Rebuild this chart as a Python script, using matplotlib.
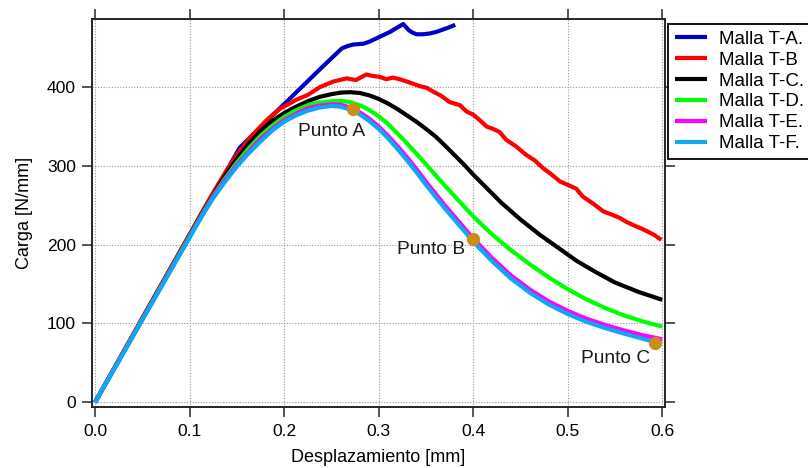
import matplotlib
matplotlib.use("Agg")
import matplotlib.pyplot as plt

plt.rcParams['font.family'] = ['Liberation Sans', 'DejaVu Sans']

# Malla T-A.
disp_a = [0, 0.1, 0.153, 0.18, 0.21, 0.24, 0.261, 0.267, 0.273, 0.284, 0.291,
          0.298, 0.305, 0.312, 0.319, 0.326, 0.329, 0.332, 0.336, 0.340, 0.347,
          0.354, 0.361, 0.368, 0.375, 0.381]
load_a = [0, 211, 323, 355, 390, 425, 449, 452, 454, 455, 458,
          462, 466, 470, 475, 480, 476, 472, 469, 467, 467,
          468, 470, 473, 476, 479]

# Malla T-B
disp_b = [0, 0.05, 0.1, 0.1125, 0.125, 0.1375, 0.15, 0.165, 0.1815, 0.195, 0.213,
          0.225, 0.238, 0.252, 0.266, 0.276, 0.287, 0.294, 0.301, 0.308, 0.315,
          0.322, 0.330, 0.344, 0.351, 0.358, 0.366, 0.375, 0.386, 0.393, 0.400,
          0.407, 0.414, 0.421, 0.428, 0.435, 0.445, 0.456, 0.465, 0.474, 0.483,
          0.492, 0.500, 0.509, 0.516, 0.527, 0.538, 0.547, 0.555, 0.562, 0.569,
          0.577, 0.584, 0.592, 0.599]
load_b = [0, 107, 213, 240, 266, 291, 314, 337, 358, 372, 384,
          390, 400, 407, 411, 409, 416, 414, 413, 410, 412,
          410, 407, 401, 399, 394, 389, 381, 377, 369, 365,
          358, 350, 347, 343, 333, 325, 314, 307, 297, 289,
          280, 276, 271, 261, 252, 242, 238, 234, 229, 225,
          221, 217, 212, 206]

# Malla T-C.
disp_c = [0, 0.1, 0.1125, 0.125, 0.1375, 0.15, 0.1625, 0.175, 0.1875, 0.2, 0.2125,
          0.225, 0.2375, 0.25, 0.26, 0.27, 0.28, 0.29, 0.30, 0.31, 0.32, 0.33,
          0.34, 0.35, 0.36, 0.37, 0.38, 0.39, 0.40, 0.41, 0.43, 0.45, 0.47,
          0.49, 0.51, 0.53, 0.55, 0.575, 0.6]
load_c = [0, 212, 238, 263, 287, 309, 328, 344, 357, 367, 375,
          382, 387.5, 391, 393, 393.5, 392.5, 389.5, 385, 379, 372, 364,
          356, 347, 337.5, 326, 314, 302, 289, 277, 253, 232, 213,
          196, 179, 165, 152, 140, 130]

# Malla T-D.
disp_d = [0, 0.1, 0.1125, 0.125, 0.1375, 0.15, 0.1625, 0.175, 0.1875, 0.2, 0.2125,
          0.225, 0.2375, 0.25, 0.26, 0.27, 0.28, 0.29, 0.30, 0.31, 0.32, 0.33,
          0.34, 0.35, 0.36, 0.37, 0.38, 0.39, 0.40, 0.42, 0.44, 0.46, 0.48,
          0.50, 0.52, 0.54, 0.56, 0.58, 0.60]
load_d = [0, 211, 237, 262, 284, 304, 322, 338, 351, 362, 370.5,
          377, 380.5, 382, 382.5, 381, 377, 371, 363, 353, 341, 328.5,
          315.5, 302, 288.5, 275, 262, 249, 236, 213, 193, 175, 158.5,
          143.5, 130.5, 119.5, 110, 102.5, 96]

# Malla T-E.
disp_e = [0, 0.1, 0.1125, 0.125, 0.1375, 0.15, 0.1625, 0.175, 0.1875, 0.2, 0.2125,
          0.225, 0.2375, 0.25, 0.26, 0.27, 0.28, 0.29, 0.30, 0.31, 0.32, 0.33,
          0.34, 0.35, 0.36, 0.37, 0.38, 0.39, 0.40, 0.42, 0.44, 0.46, 0.48,
          0.50, 0.52, 0.54, 0.56, 0.58, 0.60]
load_e = [0, 210, 236, 261, 282, 301, 318, 334, 347, 358, 366,
          373, 376.5, 378, 377.5, 374, 368, 360, 350, 338, 325, 311,
          296, 280, 265, 250, 236, 222, 208, 183, 161, 143, 128,
          116, 106, 98, 91, 85, 80]

# Malla T-F.
disp_f = [0, 0.1, 0.1125, 0.125, 0.1375, 0.15, 0.1625, 0.175, 0.1875, 0.2, 0.2125,
          0.225, 0.2375, 0.25, 0.26, 0.27, 0.28, 0.29, 0.30, 0.31, 0.32, 0.33,
          0.34, 0.35, 0.36, 0.37, 0.38, 0.39, 0.40, 0.42, 0.44, 0.46, 0.48,
          0.50, 0.52, 0.54, 0.56, 0.58, 0.596]
load_f = [0, 209, 235, 259, 280, 299, 316, 331, 345, 356, 364,
          370, 374, 376, 375, 371.5, 365.5, 357, 347, 335, 321.5, 307,
          292, 276, 261, 246, 232, 218, 204, 179, 157, 139, 124,
          112, 102, 94, 87, 80.5, 75]

labels = ["Malla T-A.", "Malla T-B", "Malla T-C.", "Malla T-D.", "Malla T-E.", "Malla T-F."]
colors = ["#0000c8", "#ff0000", "#000000", "#00ff00", "#ff00ff", "#0aa8f5"]

punto_x = [0.273, 0.400, 0.5926]
punto_y = [372, 207, 75]
punto_names = ["Punto A", "Punto B", "Punto C"]
# where each label sits (data coords)
punto_text_x = [0.250, 0.355, 0.5505]
punto_text_y = [343, 194, 55]

fig = plt.figure(figsize=(8.08, 4.68), dpi=100)
ax = fig.add_axes([92 / 808, 1 - 406.7 / 468, 573 / 808, 387.4 / 468])

curves = [(disp_a, load_a), (disp_b, load_b), (disp_c, load_c),
          (disp_d, load_d), (disp_e, load_e), (disp_f, load_f)]
for (x, y), lab, col in zip(curves, labels, colors):
    ax.plot(x, y, color=col, lw=3, label=lab, solid_joinstyle='round',
            solid_capstyle='butt')

ax.plot(punto_x, punto_y, 'o', color='#cd8b17', ms=8.5, mec='#cd8b17', zorder=5)
for tx, ty, name in zip(punto_text_x, punto_text_y, punto_names):
    ax.text(tx, ty, name, ha='center', va='center', fontsize=13.8, color='#1a1a1a')

ax.set_xlim(-0.0032, 0.6029)
ax.set_ylim(-5.6, 486)
ax.set_xticks([0, 0.1, 0.2, 0.3, 0.4, 0.5, 0.6])
ax.set_xticklabels(["0.0", "0.1", "0.2", "0.3", "0.4", "0.5", "0.6"])
ax.set_yticks([0, 100, 200, 300, 400])

ax.set_axisbelow(True)
ax.grid(True, color='0.6', linestyle=(0, (1, 1.5)), linewidth=0.8)

for sp in ax.spines.values():
    sp.set_linewidth(1.4)
    sp.set_color('0.15')

ax.tick_params(direction='out', length=7.5, width=1.1, color='0.15',
               top=True, right=True, labelsize=12.6)
ax.tick_params(axis='x', pad=5)
ax.tick_params(axis='y', pad=4)

ax.set_xlabel("Desplazamiento [mm]", fontsize=13, labelpad=7)
ax.set_ylabel("Carga [N/mm]", fontsize=13, labelpad=10)

leg = ax.legend(loc='upper left', bbox_to_anchor=(1.005, 0.988), borderaxespad=0,
                fontsize=13.5, handlelength=1.75, handletextpad=0.6,
                labelspacing=0.2, borderpad=0.36, fancybox=False,
                framealpha=1, edgecolor='black')
leg.get_frame().set_linewidth(1.3)

fig.savefig("out.png", dpi=100)
